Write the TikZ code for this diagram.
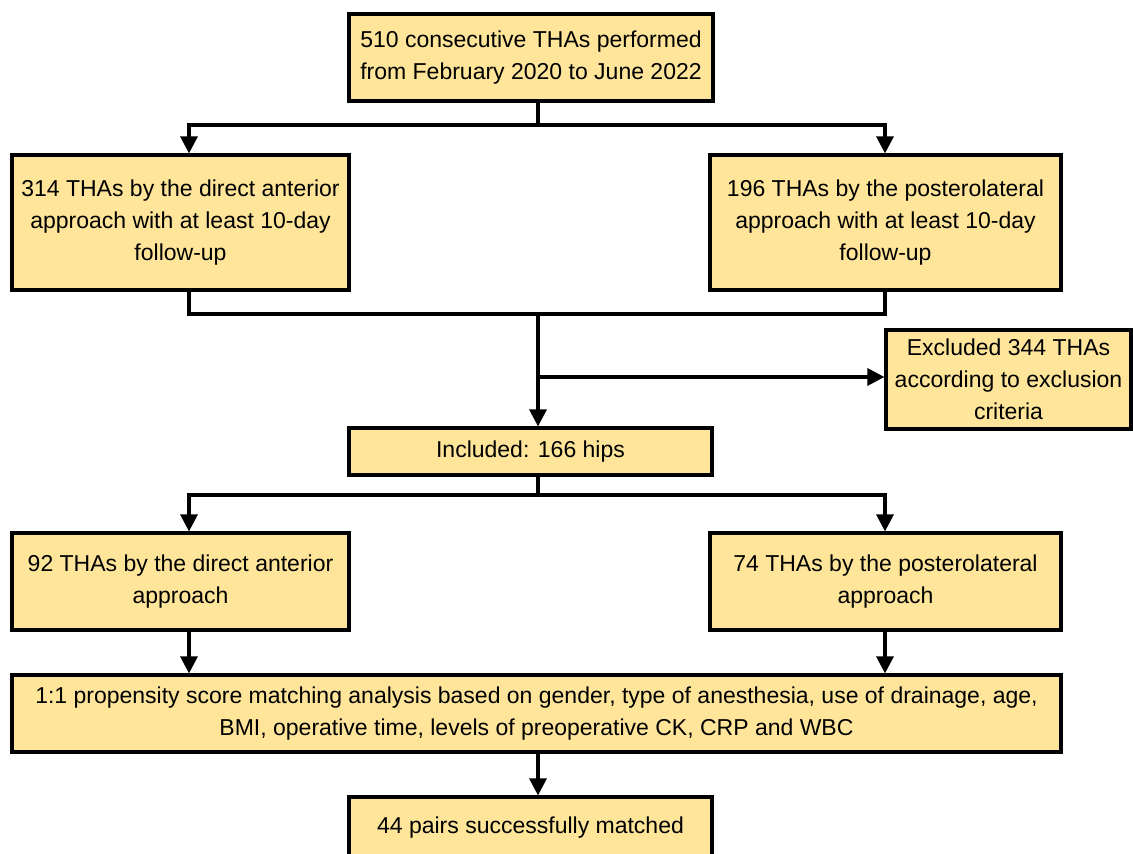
\documentclass[tikz,border=0pt]{standalone}
\usepackage{fontspec}
\setmainfont{Liberation Sans}
\usetikzlibrary{arrows.meta}
\definecolor{boxfill}{RGB}{254,229,153}
\begin{document}
\begin{tikzpicture}[x=1pt,y=1pt,
  box/.style={draw=black, fill=boxfill, line width=3.2pt, align=center, inner sep=0pt,
    font=\fontsize{23}{32}\selectfont},
  conn/.style={line width=3.2pt, draw=black},
  arr/.style={conn, -{Triangle[length=17pt,width=17pt]}}]
\useasboundingbox (0,0) rectangle (1133,-854);
\clip (0,0) rectangle (1133,-854);
\fill[white] (0,0) rectangle (1133,-854);
% boxes
\node[box, minimum width=364pt, minimum height=87pt] (top) at (531,-57.5)
  {510 consecutive THAs performed\\from February 2020 to June 2022};
\node[box, minimum width=337pt, minimum height=135pt] (L2) at (180.5,-222.5)
  {314 THAs by the direct anterior\\approach with at least 10-day\\follow-up};
\node[box, minimum width=351pt, minimum height=135pt] (R2) at (885.5,-222.5)
  {196 THAs by the posterolateral\\approach with at least 10-day\\follow-up};
\node[box, minimum width=245pt, minimum height=99pt] (Excl) at (1008.5,-379.5)
  {Excluded 344 THAs\\according to exclusion\\criteria};
\node[box, minimum width=363pt, minimum height=47pt] (Incl) at (530.5,-451.5)
  {Included: 166 hips};
\node[box, minimum width=337pt, minimum height=97pt] (L3) at (180.5,-581.5)
  {92 THAs by the direct anterior\\approach};
\node[box, minimum width=351pt, minimum height=97pt] (R3) at (885.5,-581.5)
  {74 THAs by the posterolateral\\approach};
\node[box, minimum width=1049pt, minimum height=77pt] (Big) at (536.5,-713.5)
  {1:1 propensity score matching analysis based on gender, type of anesthesia, use of drainage, age,\\BMI, operative time, levels of preoperative CK, CRP and WBC};
\node[box, minimum width=363pt, minimum height=62pt] (Last) at (530.5,-828)
  {44 pairs successfully matched};
% junction coordinates
\coordinate (jt) at (538,-125);
\coordinate (jm) at (538,-314);
\coordinate (jb) at (538,-377);
\coordinate (j3) at (538,-495);
\coordinate (xl) at (189,0);
\coordinate (xr) at (885,0);
% connectors
\draw[conn] (top.south -| jt) -- (jt);
\draw[arr] (jt) -| (L2.north -| xl);
\draw[arr] (jt) -| (R2.north -| xr);
\draw[conn] (L2.south -| xl) |- (jm) -| (R2.south -| xr);
\draw[arr] (jm) -- (Incl.north -| jm);
\draw[arr] (jb) -- (Excl.west |- jb);
\draw[conn] (Incl.south -| j3) -- (j3);
\draw[arr] (j3) -| (L3.north -| xl);
\draw[arr] (j3) -| (R3.north -| xr);
\draw[arr] (L3.south -| xl) -- (Big.north -| xl);
\draw[arr] (R3.south -| xr) -- (Big.north -| xr);
\draw[arr] (Big.south -| jm) -- (Last.north -| jm);
\end{tikzpicture}
\end{document}
